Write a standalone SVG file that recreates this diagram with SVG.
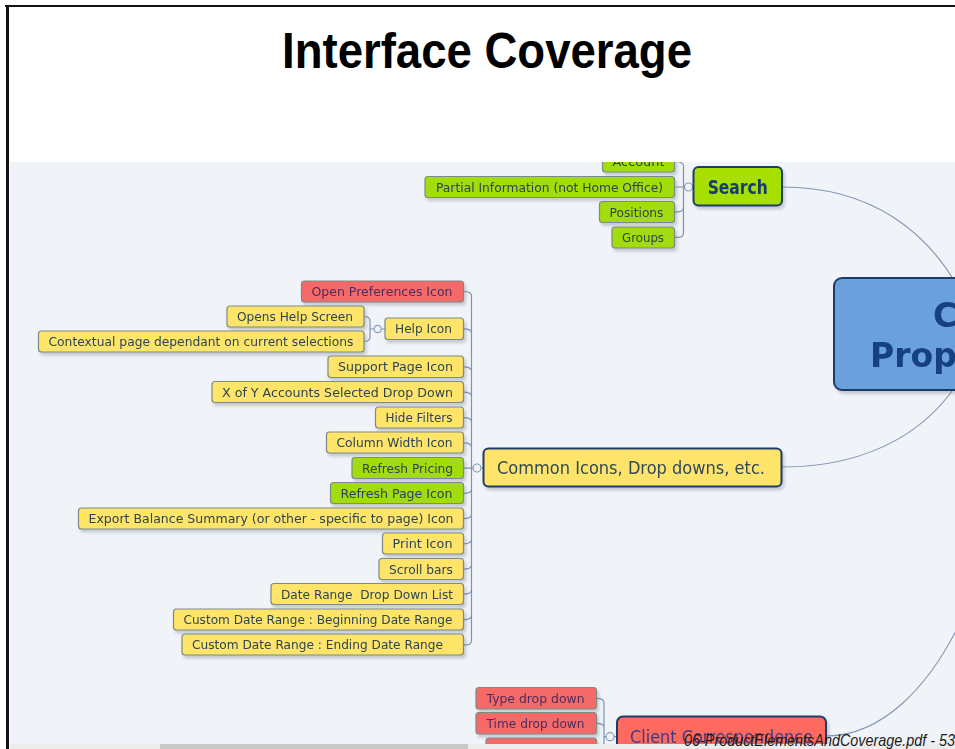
<svg xmlns="http://www.w3.org/2000/svg" width="955" height="749" viewBox="0 0 955 749">
  <defs>
    <style>
      .map-bg { fill: #f0f3f8; }
      .leaf { stroke: #7d8a86; stroke-width: 1.2; }
      .yellow { fill: #ffe46b; }
      .green { fill: #a2dc0e; }
      .red { fill: #f56b69; }
      .main { stroke: #1c3d69; stroke-width: 2; }
      .lbl { font-family: "DejaVu Sans", Verdana, sans-serif; font-size: 12.5px; fill: #2c4456; white-space: pre; }
      .lbl-red { fill: #4a2d5c; }
      .link { fill: none; stroke: #7e92b6; stroke-width: 1.2; }
      .arc { fill: none; stroke: #8394b4; stroke-width: 1.1; }
      .knob { fill: #f0f3f8; stroke: #8a9bbd; stroke-width: 1.2; }
    </style>
    <filter id="shadow" x="-10%" y="-20%" width="130%" height="160%">
      <feDropShadow dx="2" dy="3" stdDeviation="1.8" flood-color="#55606e" flood-opacity="0.28"/>
    </filter>
    <clipPath id="mapClip">
      <rect x="10" y="162" width="945" height="582"/>
    </clipPath>
  </defs>

  <!-- page -->
  <rect x="0" y="0" width="955" height="749" fill="#ffffff"/>
  <rect x="10" y="162" width="945" height="582" class="map-bg"/>
  <line x1="5" y1="6" x2="955" y2="6" stroke="#111" stroke-width="2"/>
  <line x1="7.5" y1="5" x2="7.5" y2="749" stroke="#111" stroke-width="3"/>

  <text x="487" y="68" text-anchor="middle" font-family="'Liberation Sans', Arial, sans-serif" font-weight="bold" font-size="50" textLength="410" lengthAdjust="spacingAndGlyphs" fill="#000">Interface Coverage</text>

  <g clip-path="url(#mapClip)">
    <!-- connectors -->
    <g id="connectors">
      <!-- topic arcs into the central topic -->
      <path class="arc" d="M782,187 C870,187 930,230 965,300"/>
      <path class="arc" d="M782,467 C870,467 935,430 968,365"/>
      <path class="arc" d="M826,736 C880,736 930,690 965,612"/>

      <!-- Search bracket -->
      <path class="link" d="M674.5,161.5 Q683.5,161.5 683.5,166 V232.8 Q683.5,237.3 679,237.3 H674.5"/>
      <path class="link" d="M674.5,187 H683.5 M674.5,212.2 Q683.5,212.2 683.5,208"/>
      <path class="link" d="M683.5,187 H684.5 M692.5,187 H693.5"/>
      <circle class="knob" cx="688.5" cy="187" r="4"/>

      <!-- Common Icons bracket -->
      <path class="link" d="M463.5,291.5 Q471.5,291.5 471.5,296 V640.3 Q471.5,644.8 467,644.8 H463.5"/>
      <path class="link" d="M463.5,328.8 Q471.5,328.8 471.5,333 M463.5,366.8 Q471.5,366.8 471.5,371 M463.5,392.2 Q471.5,392.2 471.5,396.4 M463.5,417.6 Q471.5,417.6 471.5,421.8 M463.5,442.8 Q471.5,442.8 471.5,447 M463.5,468.2 H471.5 M463.5,493.4 Q471.5,493.4 471.5,489.2 M463.5,518.7 Q471.5,518.7 471.5,514.5 M463.5,543.8 Q471.5,543.8 471.5,539.6 M463.5,569.2 Q471.5,569.2 471.5,565 M463.5,594.2 Q471.5,594.2 471.5,590 M463.5,619.7 Q471.5,619.7 471.5,615.5"/>
      <path class="link" d="M471.5,468 H473 M481,468 H483.5"/>
      <circle class="knob" cx="477" cy="468" r="4"/>

      <!-- Help Icon bracket -->
      <path class="link" d="M364,316.5 Q370,316.5 370,321 V337 Q370,341.5 364,341.5 M370,329 H374 M381.5,329 H385"/>
      <circle class="knob" cx="377.7" cy="329" r="3.6"/>

      <!-- Client Correspondence bracket -->
      <path class="link" d="M596.5,698.3 Q604,698.3 604,703 V760 M596.5,723.3 Q604,723.3 604,727.5 M596.5,748.8 Q604,748.8 604,744.5"/>
      <path class="link" d="M604,736.7 H606 M614,736.7 H617"/>
      <circle class="knob" cx="610" cy="736.7" r="4"/>
    </g>

    <!-- central topic -->
    <g id="central" filter="url(#shadow)">
      <rect x="834" y="278" width="250" height="112" rx="8" fill="#6aa0de" class="main" stroke-width="2.5"/>
      <text x="933" y="327" font-family="'DejaVu Sans', Verdana, sans-serif" font-weight="bold" font-size="33" fill="#123f7f">C</text>
      <text x="870" y="367" font-family="'DejaVu Sans', Verdana, sans-serif" font-weight="bold" font-size="33" fill="#123f7f">Propo</text>
    </g>

    <!-- Search branch -->
    <g id="search" filter="url(#shadow)">
      <rect x="693.5" y="167" width="88.5" height="38.5" rx="5" fill="#a6df00" class="main"/>
      <text x="737.7" y="193.5" text-anchor="middle" font-family="'DejaVu Sans', Verdana, sans-serif" font-weight="bold" font-size="19" textLength="60" lengthAdjust="spacingAndGlyphs" fill="#173d6c">Search</text>
    </g>
    <g id="search-account" filter="url(#shadow)">
      <rect x="602.5" y="151" width="72" height="21" rx="3" class="leaf green"/>
      <text x="612.5" y="166" class="lbl" textLength="52" lengthAdjust="spacingAndGlyphs">Account</text>
    </g>
    <g id="search-partial" filter="url(#shadow)">
      <rect x="425" y="176.5" width="249.5" height="21" rx="3" class="leaf green"/>
      <text x="436" y="191.5" class="lbl" textLength="227" lengthAdjust="spacingAndGlyphs">Partial Information (not Home Office)</text>
    </g>
    <g id="search-positions" filter="url(#shadow)">
      <rect x="599.5" y="201.5" width="75" height="21" rx="3" class="leaf green"/>
      <text x="609.5" y="216.7" class="lbl" textLength="54" lengthAdjust="spacingAndGlyphs">Positions</text>
    </g>
    <g id="search-groups" filter="url(#shadow)">
      <rect x="612" y="227" width="62.5" height="21" rx="3" class="leaf green"/>
      <text x="622" y="242" class="lbl" textLength="42" lengthAdjust="spacingAndGlyphs">Groups</text>
    </g>

    <!-- Common Icons branch -->
    <g id="common" filter="url(#shadow)">
      <rect x="483.5" y="448.5" width="298" height="38" rx="5" fill="#ffe46b" class="main"/>
      <text x="497" y="473.5" font-family="'DejaVu Sans', Verdana, sans-serif" font-size="17" textLength="268" lengthAdjust="spacingAndGlyphs" fill="#2f4858">Common Icons, Drop downs, etc.</text>
    </g>
    <g id="open-preferences" filter="url(#shadow)">
      <rect x="301.5" y="281" width="162" height="21" rx="3" class="leaf red"/>
      <text x="311.5" y="296" class="lbl lbl-red" textLength="141" lengthAdjust="spacingAndGlyphs">Open Preferences Icon</text>
    </g>
    <g id="help-icon" filter="url(#shadow)">
      <rect x="385" y="318" width="78.5" height="21.5" rx="3" class="leaf yellow"/>
      <text x="395" y="333.3" class="lbl" textLength="57" lengthAdjust="spacingAndGlyphs">Help Icon</text>
    </g>
    <g id="opens-help" filter="url(#shadow)">
      <rect x="227" y="306" width="137" height="21" rx="3" class="leaf yellow"/>
      <text x="237" y="321" class="lbl" textLength="116" lengthAdjust="spacingAndGlyphs">Opens Help Screen</text>
    </g>
    <g id="contextual" filter="url(#shadow)">
      <rect x="38.5" y="331" width="325.5" height="21" rx="3" class="leaf yellow"/>
      <text x="48.5" y="346" class="lbl" textLength="305" lengthAdjust="spacingAndGlyphs">Contextual page dependant on current selections</text>
    </g>
    <g id="support-page" filter="url(#shadow)">
      <rect x="328" y="356" width="135.5" height="21.5" rx="3" class="leaf yellow"/>
      <text x="338" y="371.3" class="lbl" textLength="115" lengthAdjust="spacingAndGlyphs">Support Page Icon</text>
    </g>
    <g id="x-of-y" filter="url(#shadow)">
      <rect x="212" y="381.5" width="251.5" height="21" rx="3" class="leaf yellow"/>
      <text x="222" y="396.6" class="lbl" textLength="231" lengthAdjust="spacingAndGlyphs">X of Y Accounts Selected Drop Down</text>
    </g>
    <g id="hide-filters" filter="url(#shadow)">
      <rect x="375.5" y="407" width="88" height="21" rx="3" class="leaf yellow"/>
      <text x="385.5" y="422" class="lbl" textLength="67" lengthAdjust="spacingAndGlyphs">Hide Filters</text>
    </g>
    <g id="column-width" filter="url(#shadow)">
      <rect x="326.5" y="432" width="137" height="21" rx="3" class="leaf yellow"/>
      <text x="336.5" y="447.2" class="lbl" textLength="116" lengthAdjust="spacingAndGlyphs">Column Width Icon</text>
    </g>
    <g id="refresh-pricing" filter="url(#shadow)">
      <rect x="352" y="457.5" width="111.5" height="21" rx="3" class="leaf green"/>
      <text x="362" y="472.6" class="lbl" textLength="91" lengthAdjust="spacingAndGlyphs">Refresh Pricing</text>
    </g>
    <g id="refresh-page" filter="url(#shadow)">
      <rect x="330.5" y="482.5" width="133" height="21" rx="3" class="leaf green"/>
      <text x="340.5" y="497.7" class="lbl" textLength="112" lengthAdjust="spacingAndGlyphs">Refresh Page Icon</text>
    </g>
    <g id="export-balance" filter="url(#shadow)">
      <rect x="78.5" y="508" width="385" height="21" rx="3" class="leaf yellow"/>
      <text x="88.5" y="523.1" class="lbl" textLength="365" lengthAdjust="spacingAndGlyphs">Export Balance Summary (or other - specific to page) Icon</text>
    </g>
    <g id="print-icon" filter="url(#shadow)">
      <rect x="382.5" y="533" width="81" height="21" rx="3" class="leaf yellow"/>
      <text x="392.5" y="548.2" class="lbl" textLength="60" lengthAdjust="spacingAndGlyphs">Print Icon</text>
    </g>
    <g id="scroll-bars" filter="url(#shadow)">
      <rect x="379" y="558.5" width="84.5" height="21" rx="3" class="leaf yellow"/>
      <text x="389" y="573.6" class="lbl" textLength="64" lengthAdjust="spacingAndGlyphs">Scroll bars</text>
    </g>
    <g id="date-range" filter="url(#shadow)">
      <rect x="271" y="583.5" width="192.5" height="21" rx="3" class="leaf yellow"/>
      <text x="281" y="598.6" class="lbl" textLength="172" lengthAdjust="spacingAndGlyphs">Date Range  Drop Down List</text>
    </g>
    <g id="custom-beginning" filter="url(#shadow)">
      <rect x="173.5" y="609" width="290" height="21" rx="3" class="leaf yellow"/>
      <text x="183.5" y="624.1" class="lbl" textLength="269" lengthAdjust="spacingAndGlyphs">Custom Date Range : Beginning Date Range</text>
    </g>
    <g id="custom-ending" filter="url(#shadow)">
      <rect x="182" y="634" width="281.5" height="21" rx="3" class="leaf yellow"/>
      <text x="192" y="649.2" class="lbl" textLength="251" lengthAdjust="spacingAndGlyphs">Custom Date Range : Ending Date Range</text>
    </g>

    <!-- Client Correspondence branch -->
    <g id="client-correspondence" filter="url(#shadow)">
      <rect x="617" y="716.5" width="209" height="42" rx="6" fill="#ff6a61" class="main"/>
      <text x="630" y="743" font-family="'DejaVu Sans', Verdana, sans-serif" font-size="17.5" textLength="183" lengthAdjust="spacingAndGlyphs" fill="#3e3a80">Client Correspondence</text>
    </g>
    <g id="type-drop-down" filter="url(#shadow)">
      <rect x="476" y="687.5" width="120.5" height="21.5" rx="3" class="leaf red"/>
      <text x="486.5" y="702.8" class="lbl lbl-red" textLength="98" lengthAdjust="spacingAndGlyphs">Type drop down</text>
    </g>
    <g id="time-drop-down" filter="url(#shadow)">
      <rect x="476" y="712.5" width="120.5" height="21.5" rx="3" class="leaf red"/>
      <text x="486.5" y="727.8" class="lbl lbl-red" textLength="98" lengthAdjust="spacingAndGlyphs">Time drop down</text>
    </g>
    <g id="third-drop-down" filter="url(#shadow)">
      <rect x="486" y="738" width="110.5" height="21.5" rx="3" class="leaf red"/>
    </g>
  </g>

  <!-- viewer scroll bar -->
  <rect x="10" y="744" width="945" height="5" fill="#ececec"/>
  <rect x="160" y="744" width="308" height="5" fill="#c9c9c9"/>

  <text x="684" y="745.5" font-family="'Liberation Sans', Arial, sans-serif" font-style="italic" font-size="17" textLength="271" lengthAdjust="spacingAndGlyphs" fill="#1a1a1a">06-ProductElementsAndCoverage.pdf - 53</text>
</svg>
